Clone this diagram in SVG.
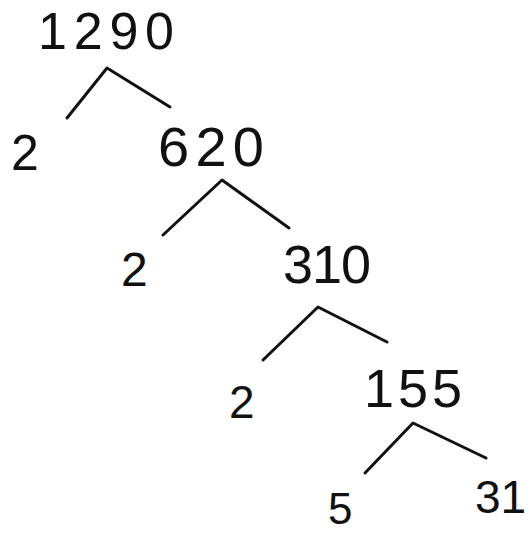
<svg xmlns="http://www.w3.org/2000/svg" width="529" height="533" viewBox="0 0 529 533">
<style>
.n{font-family:"Liberation Sans","DejaVu Sans",sans-serif;fill:#111;font-weight:normal}
.c{fill:none;stroke:#111;stroke-width:3;stroke-linecap:round;stroke-linejoin:round}
</style>
<rect width="529" height="533" fill="#ffffff"/>
<g id="connectors">
<path class="c" d="M67,118 L107,68 L170,107"/>
<path class="c" d="M163,235 L222,180 L289,228"/>
<path class="c" d="M263,360 L318,307 L387,342"/>
<path class="c" d="M365,473 L413,423 L486,458"/>
</g>
<g id="n1290"><text class="n" x="38" y="49" font-size="52" textLength="136" lengthAdjust="spacing">1290</text></g>
<g id="n2a"><text class="n" x="11" y="170" font-size="50">2</text></g>
<g id="n620"><text class="n" x="158" y="166" font-size="56" textLength="106" lengthAdjust="spacing">620</text></g>
<g id="n2b"><text class="n" x="121" y="286" font-size="48">2</text></g>
<g id="n310"><text class="n" x="283" y="283" font-size="54" textLength="88" lengthAdjust="spacing">310</text></g>
<g id="n2c"><text class="n" x="229" y="418" font-size="46">2</text></g>
<g id="n155"><text class="n" x="364" y="407" font-size="54" textLength="98" lengthAdjust="spacing">155</text></g>
<g id="n5"><text class="n" x="328" y="524" font-size="44">5</text></g>
<g id="n31"><text class="n" x="475" y="513" font-size="46">31</text></g>
</svg>
